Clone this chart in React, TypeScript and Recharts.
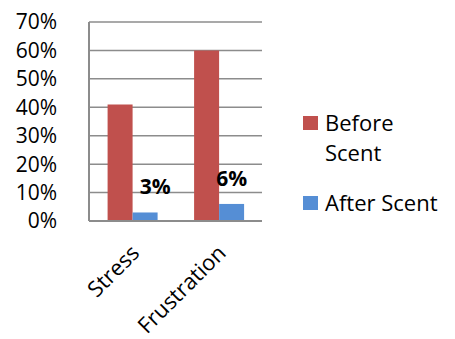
import React from 'react';
import { BarChart, Bar, XAxis, YAxis, CartesianGrid, Legend, LabelList } from 'recharts';

const categories = ['Stress', 'Frustration'];
const beforeScent = [0.41, 0.6];
const afterScent = [0.03, 0.06];
const afterLabels = ['3%', '6%'];
const yTicks = [0, 0.1, 0.2, 0.3, 0.4, 0.5, 0.6, 0.7];
const seriesOrder = ['before', 'after'];

const COLORS = { before: '#C0504D', after: '#558ED5' };
const FONT = '"Open Sans", Calibri, sans-serif';

const data = categories.map((name, i) => ({
  name,
  before: beforeScent[i],
  after: afterScent[i],
  label: afterLabels[i],
}));

const XTick = ({ x, y, payload }: any) => (
  <text
    x={x}
    y={y}
    transform={`rotate(-45, ${x}, ${y})`}
    textAnchor="end"
    dx={-12}
    dy={24}
    fontSize={22}
    fontFamily={FONT}
    fill="#000"
  >
    {payload.value}
  </text>
);

const AfterLabel = ({ x, y, width, value, index }: any) => (
  <text
    x={x + width / 2 + (index === 0 ? 10 : 0)}
    y={y - 18}
    textAnchor="middle"
    fontSize={21}
    fontWeight="bold"
    fontFamily={FONT}
    fill="#000"
  >
    {value}
  </text>
);

const LegendContent = ({ payload }: any) => {
  const items = seriesOrder
    .map((key) => (payload || []).find((p: any) => p.dataKey === key))
    .filter(Boolean);
  return (
    <div style={{ fontFamily: FONT, fontSize: 22, color: '#000' }}>
      {items.map((entry: any, i: number) => (
        <div key={`item-${i}`} style={{ display: 'flex', alignItems: 'flex-start', marginBottom: 20 }}>
          <span
            style={{
              display: 'inline-block',
              width: 15,
              height: 14,
              background: entry.color,
              marginTop: 9,
              marginRight: 7,
              flexShrink: 0,
            }}
          />
          <span style={{ width: 118, lineHeight: '30px' }}>{entry.value}</span>
        </div>
      ))}
    </div>
  );
};

export default function App() {
  return (
    <div style={{ position: 'absolute', left: 0, top: 0, width: 455, height: 339, background: '#fff' }}>
      <BarChart
        width={455}
        height={339}
        data={data}
        margin={{ top: 22, right: 193, bottom: 0, left: 0 }}
        barCategoryGap="21.5%"
        barGap={0}
      >
        <CartesianGrid vertical={false} stroke="#8c8c8c" strokeWidth={1.5} />
        <XAxis
          dataKey="name"
          height={118}
          tickLine={false}
          axisLine={{ stroke: '#8c8c8c', strokeWidth: 2 }}
          tick={<XTick />}
          interval={0}
        />
        <YAxis
          width={89}
          domain={[0, 0.7]}
          ticks={yTicks}
          tickFormatter={(v: number) => `${Math.round(v * 100)}%`}
          tickLine={false}
          axisLine={{ stroke: '#8c8c8c', strokeWidth: 2 }}
          tickMargin={26}
          tick={{ fontSize: 21, fontFamily: FONT, fill: '#000' }}
          interval={0}
        />
        <Legend
          layout="vertical"
          align="center"
          verticalAlign="middle"
          content={<LegendContent />}
          wrapperStyle={{ left: 303, top: 107, width: 152 }}
        />
        <Bar dataKey="before" name="Before Scent" fill={COLORS.before} isAnimationActive={false} />
        <Bar dataKey="after" name="After Scent" fill={COLORS.after} isAnimationActive={false}>
          <LabelList dataKey="label" content={<AfterLabel />} />
        </Bar>
      </BarChart>
    </div>
  );
}
